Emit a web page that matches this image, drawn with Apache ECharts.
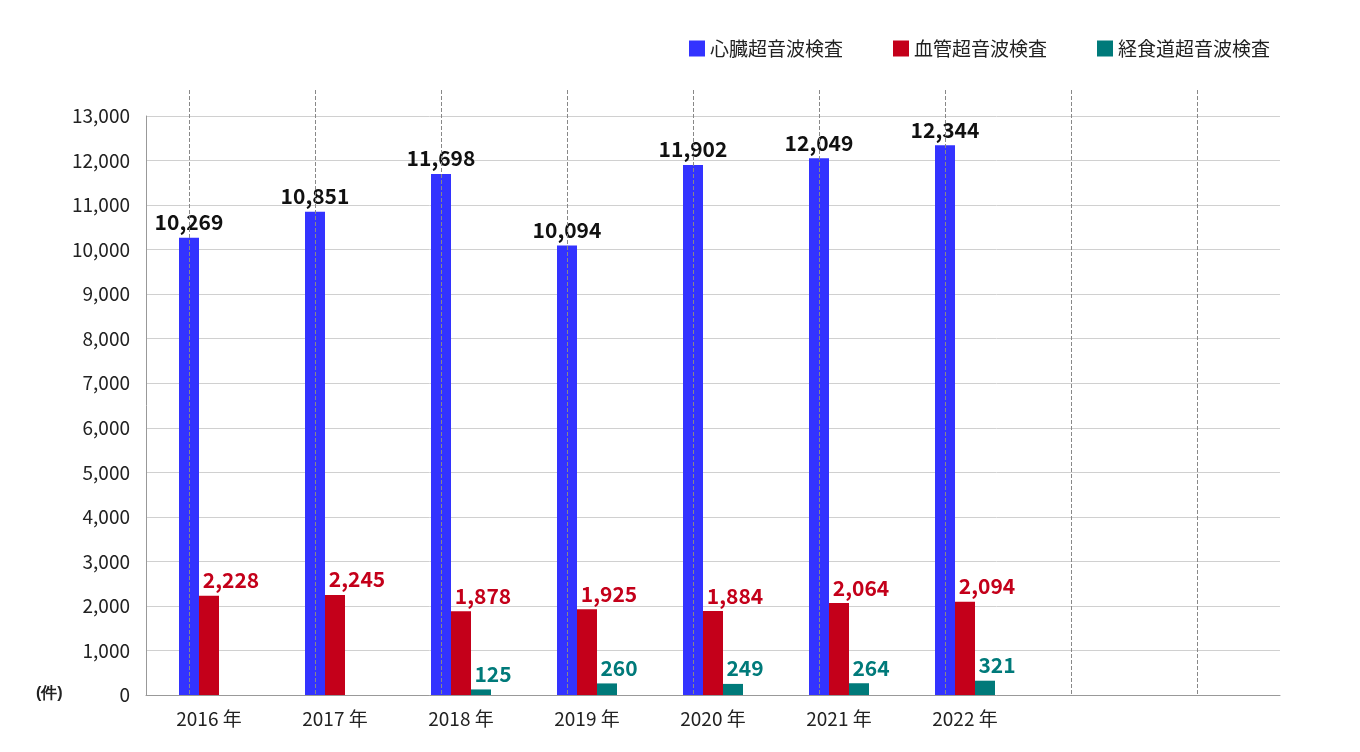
<!DOCTYPE html><html><head><meta charset="utf-8"><script src="https://cdn.jsdelivr.net/npm/echarts@6/dist/echarts.min.js"></script></head><body style="margin:0"><div id="c" style="width:1360px;height:752px"></div><script>
const categories=['2016 年','2017 年','2018 年','2019 年','2020 年','2021 年','2022 年','',''];
const cardiac=[10269,10851,11698,10094,11902,12049,12344,null,null];
const vascular=[2228,2245,1878,1925,1884,2064,2094,null,null];
const tee=[null,null,125,260,249,264,321,null,null];
const yTicks=[0,1000,13000];
const font='"Noto Sans CJK JP","Noto Sans",sans-serif';
const lab=(c)=>({show:true,position:'top',fontSize:21,fontWeight:'bold',color:c,fontFamily:font,formatter:p=>p.value==null?'':p.value.toLocaleString('en-US')});
const chart=echarts.init(document.getElementById('c'));
chart.setOption({
 textStyle:{fontFamily:font},
 legend:{top:34,right:85,icon:'rect',itemWidth:16,itemHeight:16,itemGap:50,textStyle:{fontSize:19,color:'#222',fontFamily:font},data:['心臓超音波検査','血管超音波検査','経食道超音波検査']},
 graphic:[{type:'text',left:36,top:686,style:{text:'(件)',fontSize:16,fontWeight:'bold',fill:'#222',font:'bold 16px '+font}}],
 grid:{left:146,top:116,width:1134,bottom:57},
 xAxis:{type:'category',data:categories,axisTick:{show:false},axisLine:{lineStyle:{color:'#999'}},axisLabel:{fontSize:19,color:'#222',margin:14},splitLine:{show:false}},
 yAxis:{type:'value',min:yTicks[0],max:yTicks[2],interval:yTicks[1],axisLine:{show:true,lineStyle:{color:'#999'}},axisLabel:{fontSize:19,color:'#222',margin:16,formatter:v=>v.toLocaleString('en-US')},splitLine:{lineStyle:{color:'#d0d0d0'}}},
 series:[
  {name:'心臓超音波検査',type:'bar',data:cardiac,barWidth:20,barGap:'0%',itemStyle:{color:'#3333ff'},label:lab('#111'),
   markLine:{silent:true,symbol:'none',label:{show:false},lineStyle:{type:'dashed',color:'#888',width:1},data:categories.map((c,i)=>[{xAxis:i,y:90},{xAxis:i,yAxis:0}])}},
  {name:'血管超音波検査',type:'bar',data:vascular,barWidth:20,itemStyle:{color:'#c4001a'},label:Object.assign(lab('#c4001a'),{offset:[22,0]})},
  {name:'経食道超音波検査',type:'bar',data:tee,barWidth:20,itemStyle:{color:'#007a7a'},label:Object.assign(lab('#007a7a'),{offset:[12,0]})}
 ]
});
</script></body></html>
